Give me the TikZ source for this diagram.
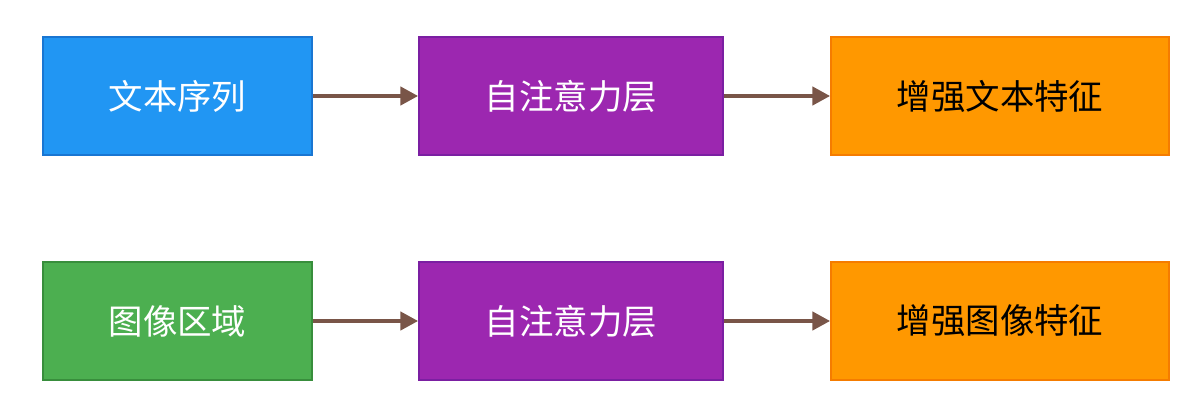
\documentclass[tikz,border=0pt]{standalone}
\usepackage{fontspec}
\setmainfont{Noto Sans CJK SC}
\usetikzlibrary{arrows.meta}

\definecolor{textblue}{HTML}{2196F3}
\definecolor{textblueline}{HTML}{1976D2}
\definecolor{attnpurple}{HTML}{9C27B0}
\definecolor{attnpurpleline}{HTML}{7B1FA2}
\definecolor{featorange}{HTML}{FF9800}
\definecolor{featorangeline}{HTML}{F57C00}
\definecolor{imggreen}{HTML}{4CAF50}
\definecolor{imggreenline}{HTML}{388E3C}
\definecolor{flowbrown}{HTML}{795548}

\begin{document}
\begin{tikzpicture}[x=0.025cm, y=-0.025cm,
    box/.style={rectangle, line width=1pt, minimum height=2.95cm, inner sep=0pt,
        font=\fontsize{24.5}{29}\selectfont},
    flow/.style={flowbrown, line width=3.2pt, -{Triangle[length=0.45cm, width=0.45cm]}}]
    \useasboundingbox (0, 0) rectangle (1189, 401);

    \node [box, fill=textblue, draw=textblueline, text=white, minimum width=6.725cm] (seq) at (177.5, 96) {文本序列};
    \node [box, fill=attnpurple, draw=attnpurpleline, text=white, minimum width=7.6cm] (attnA) at (571, 96) {自注意力层};
    \node [box, fill=featorange, draw=featorangeline, text=black, minimum width=8.45cm] (textfeat) at (1000, 96) {增强文本特征};

    \node [box, fill=imggreen, draw=imggreenline, text=white, minimum width=6.725cm] (region) at (177.5, 321) {图像区域};
    \node [box, fill=attnpurple, draw=attnpurpleline, text=white, minimum width=7.6cm] (attnB) at (571, 321) {自注意力层};
    \node [box, fill=featorange, draw=featorangeline, text=black, minimum width=8.45cm] (imgfeat) at (1000, 321) {增强图像特征};

    \draw [flow] (seq) -- (attnA);
    \draw [flow] (attnA) -- (textfeat);
    \draw [flow] (region) -- (attnB);
    \draw [flow] (attnB) -- (imgfeat);
\end{tikzpicture}
\end{document}
